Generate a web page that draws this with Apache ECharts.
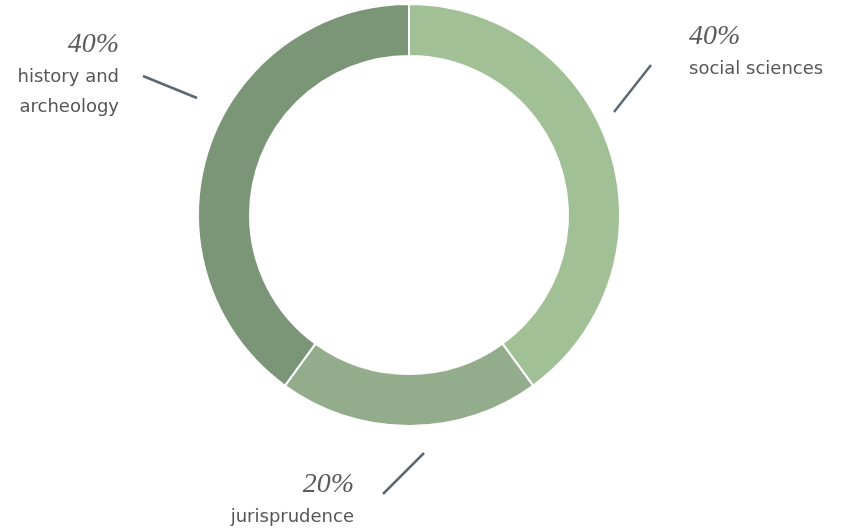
<!DOCTYPE html>
<html>
<head>
<meta charset="utf-8">
<script src="https://cdn.jsdelivr.net/npm/echarts@6/dist/echarts.min.js"></script>
<style>
html,body{margin:0;padding:0;background:#fff;}
#chart{width:844px;height:531px;}
</style>
</head>
<body>
<div id="chart"></div>
<script>
// Data
var categories = ['social sciences', 'jurisprudence', 'history and archeology'];
var shares = [40, 20, 40];
var percentLabels = ['40%', '20%', '40%'];
var colors = ['#a2c096', '#93ad8c', '#7b9677'];

// Label layout (positions of annotations, not data)
var labelPlacement = [
  { x: 689, y: 20, align: 'left', line: [[614, 112], [651, 65]] },
  { x: 119, y: 28, align: 'right', line: [[383, 494], [424, 453]] },
  { x: 119, y: 28, align: 'right', line: [[197, 98], [143, 76]] }
];
labelPlacement[1].x = 354; labelPlacement[1].y = 468;

var chart = echarts.init(document.getElementById('chart'), null, { renderer: 'canvas' });

var data = categories.map(function (c, i) {
  return { name: c, value: shares[i], itemStyle: { color: colors[i] } };
});

chart.setOption({
  animation: false,
  series: [{
    type: 'pie',
    center: [409, 215],
    radius: [159, 211],
    startAngle: 90,
    clockwise: true,
    avoidLabelOverlap: false,
    emphasis: { disabled: true },
    itemStyle: { borderColor: '#ffffff', borderWidth: 2 },
    data: data,
    label: {
      show: true,
      formatter: function (p) {
        var name = p.name.replace(' and ', ' and\n');
        var lines = name.split('\n').map(function (l) { return '{n|' + l + '}'; });
        return '{p|' + percentLabels[p.dataIndex] + '}\n' + lines.join('\n');
      },
      rich: {
        p: { fontFamily: 'Liberation Serif', fontStyle: 'italic', fontSize: 28, lineHeight: 34, color: '#5a5a5a' },
        n: { fontFamily: 'DejaVu Sans', fontSize: 18, lineHeight: 30, color: '#555555' }
      }
    },
    labelLine: {
      show: true,
      length: 10,
      length2: 10,
      lineStyle: { color: '#5b6a72', width: 2.5 }
    },
    labelLayout: function (params) {
      var lp = labelPlacement[params.dataIndex];
      var a = lp.line[0], b = lp.line[1];
      return {
        x: lp.x,
        y: lp.y,
        align: lp.align,
        verticalAlign: 'top',
        labelLinePoints: [a, [(a[0] + b[0]) / 2, (a[1] + b[1]) / 2], b]
      };
    }
  }]
});
</script>
</body>
</html>
